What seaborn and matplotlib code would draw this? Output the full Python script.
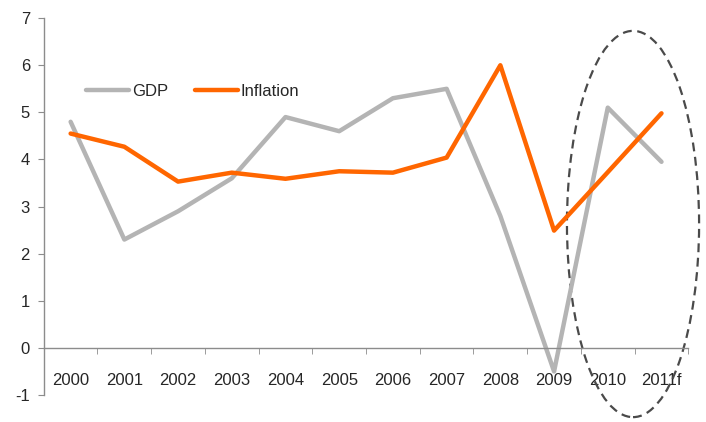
import numpy as np
import pandas as pd
import matplotlib
matplotlib.use("Agg")
import matplotlib.pyplot as plt
from matplotlib.patches import Ellipse
import seaborn as sns

years = ["2000", "2001", "2002", "2003", "2004", "2005", "2006", "2007",
         "2008", "2009", "2010", "2011f"]
gdp = [4.8, 2.3, 2.9, 3.6, 4.9, 4.6, 5.3, 5.5, 2.8, -0.5, 5.1, 3.95]
inflation = [4.55, 4.27, 3.53, 3.72, 3.59, 3.75, 3.72, 4.04, 6.0, 2.49, 3.73, 4.98]

df = pd.DataFrame({"year": years * 2,
                   "value": gdp + inflation,
                   "series": ["GDP"] * len(years) + ["Inflation"] * len(years)})

sns.set_style("white")
plt.rcParams['font.family'] = ['Liberation Sans', 'DejaVu Sans']
plt.rcParams['font.size'] = 12
plt.rcParams['axes.unicode_minus'] = False

fig = plt.figure(figsize=(7.06, 4.22), dpi=100)
ax = fig.add_axes([0.062, 0.064, 0.913, 0.893])

sns.lineplot(data=df, x="year", y="value", hue="series",
             palette={"GDP": "#b4b4b4", "Inflation": "#ff6600"},
             linewidth=3.2, sort=False, ax=ax)

ax.set_xlim(-0.5, len(years) - 0.5)
ax.set_ylim(-1, 7)
ax.set_yticks(range(-1, 8))
ax.set_xlabel("")
ax.set_ylabel("")

# x axis sits on zero, ticks between categories
ax.spines['bottom'].set_position(('data', 0))
ax.spines['top'].set_visible(False)
ax.spines['right'].set_visible(False)
for s in ['left', 'bottom']:
    ax.spines[s].set_color('#8c8c8c')
    ax.spines[s].set_linewidth(1.0)
ax.set_xticks(np.arange(len(years)))
ax.set_xticklabels(years)
ax.set_xticks(np.arange(len(years)) + 0.5, minor=True)
ax.tick_params(axis='x', which='major', length=0, pad=18, labelsize=12)
ax.tick_params(axis='x', which='minor', length=4, direction='out',
               color='#8c8c8c', bottom=True)
ax.tick_params(axis='y', length=4, direction='out', color='#8c8c8c',
               left=True, labelsize=12, pad=6)

# dashed ellipse around the last two years
ell = Ellipse((10.47, 2.63), 2.46, 8.2, fill=False, ls=(0, (4, 2.5)),
              ec='#4a4a4a', lw=1.6, clip_on=False)
ax.add_patch(ell)

leg = ax.legend(loc='center left', bbox_to_anchor=(0.055, 0.806), ncol=2,
                frameon=False, handlelength=2.6, handletextpad=0.15,
                columnspacing=1.6, fontsize=12, borderaxespad=0)

fig.savefig("out.png", dpi=100)
